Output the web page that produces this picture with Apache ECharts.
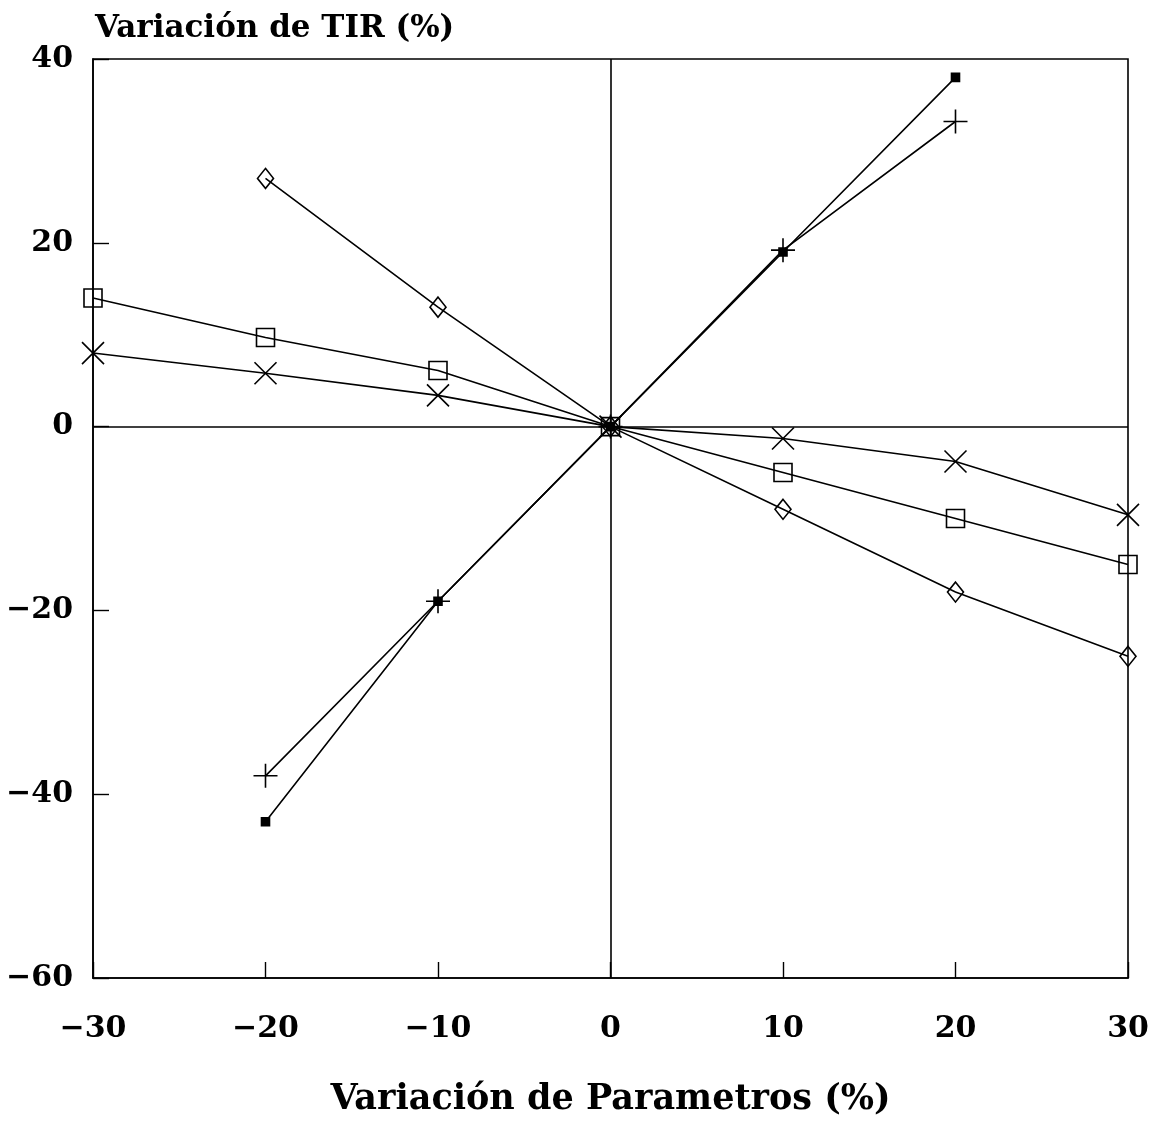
<!DOCTYPE html>
<html>
<head>
<meta charset="utf-8">
<title>Variación de TIR</title>
<script src="https://cdn.jsdelivr.net/npm/echarts@6/dist/echarts.min.js"></script>
<style>
body{margin:0;background:#fff;}
#main{width:1159px;height:1122px;}
</style>
</head>
<body>
<div id="main"></div>
<script>
// datos
var xTicks = [-30, -20, -10, 0, 10, 20, 30];
var yTicks = [-60, -40, -20, 0, 20, 40];

var xCorto = [-20, -10, 0, 10, 20];
var xLargo = [-30, -20, -10, 0, 10, 20, 30];

var cuadradoLleno = [-43, -19, 0, 19, 38];
var cruz = [-38, -19, 0, 19.2, 33.2];
var rombo = [27, 13, 0, -9, -18, -25];   // desde -20 hasta 30
var cuadrado = [14, 9.7, 6.1, 0, -5, -10, -15];
var aspa = [8, 5.8, 3.4, 0, -1.3, -3.8, -9.6];

function pares(xs, ys) {
	var out = [];
	for (var i = 0; i < ys.length; i++) out.push([xs[i], ys[i]]);
	return out;
}

var fuente = 'DejaVu Serif';
var negro = '#000';

function serie(datos, simbolo, tam, relleno) {
	return {
		type: 'line',
		data: datos,
		symbol: simbolo,
		symbolSize: tam,
		showAllSymbol: true,
		lineStyle: { color: negro, width: 1.6 },
		itemStyle: { color: relleno, borderColor: negro, borderWidth: 1.6 },
		animation: false,
		z: 3
	};
}

var myChart = echarts.init(document.getElementById('main'));

var option = {
	backgroundColor: '#fff',
	animation: false,
	title: {
		text: 'Variación de TIR (%)',
		left: 90,
		top: 8,
		textStyle: { fontFamily: fuente, fontWeight: 'bold', fontSize: 31, color: negro }
	},
	grid: {
		left: 93, right: 31, top: 59, bottom: 142,
		show: true, borderColor: negro, borderWidth: 1.6
	},
	xAxis: {
		type: 'value',
		min: -30, max: 30, interval: 10,
		name: 'Variación de Parametros (%)',
		nameLocation: 'middle',
		nameGap: 104,
		nameTextStyle: { fontFamily: fuente, fontWeight: 'bold', fontSize: 35, color: negro },
		axisLine: { onZero: false, lineStyle: { color: negro, width: 1.6 } },
		axisTick: { inside: true, length: 16, lineStyle: { color: negro, width: 1.4 } },
		axisLabel: {
			margin: 36, fontFamily: fuente, fontWeight: 'bold', fontSize: 30, color: negro,
			formatter: function (v) { return xTicks.indexOf(v) >= 0 ? String(v).replace('-', '\u2212') : ''; }
		},
		splitLine: { show: false }
	},
	yAxis: {
		type: 'value',
		min: -60, max: 40, interval: 20,
		axisLine: { onZero: false, lineStyle: { color: negro, width: 1.6 } },
		axisTick: { inside: true, length: 16, lineStyle: { color: negro, width: 1.4 } },
		axisLabel: {
			margin: 20, fontFamily: fuente, fontWeight: 'bold', fontSize: 30, color: negro,
			formatter: function (v) { return yTicks.indexOf(v) >= 0 ? String(v).replace('-', '\u2212') : ''; }
		},
		splitLine: { show: false }
	},
	series: [
		// ejes en cero
		{
			type: 'line', data: [], animation: false,
			markLine: {
				silent: true, symbol: 'none', label: { show: false },
				lineStyle: { color: negro, width: 1.6, type: 'solid' },
				data: [{ xAxis: 0 }, { yAxis: 0 }]
			}
		},
		serie(pares(xCorto, cuadradoLleno), 'rect', 8, negro),
		serie(pares(xCorto, cruz), 'path://M0 5 L10 5 M5 0 L5 10', 24, 'none'),
		serie(pares(xLargo.slice(1), rombo), 'path://M5 0 L10 6 L5 12 L0 6 Z', [16, 20], 'none'),
		serie(pares(xLargo, cuadrado), 'rect', 18, 'none'),
		serie(pares(xLargo, aspa), 'path://M0 0 L10 10 M10 0 L0 10', 22, 'none')
	]
};
myChart.setOption(option);
</script>
</body>
</html>
